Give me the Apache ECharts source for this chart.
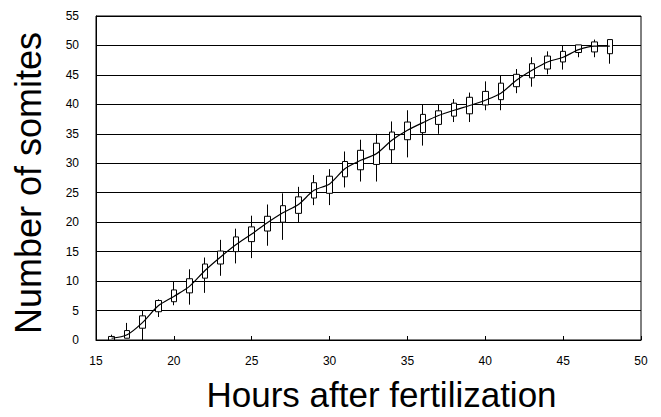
<!DOCTYPE html>
<html>
<head>
<meta charset="utf-8">
<script src="https://cdn.jsdelivr.net/npm/echarts@6/dist/echarts.min.js"></script>
<style>html,body{margin:0;padding:0;background:#fff;}#c{width:661px;height:417px;}</style>
</head>
<body>
<div id="c"></div>
<script>
const hours = [16,17,18,19,20,21,22,23,24,25,26,27,28,29,30,31,32,33,34,35,36,37,38,39,40,41,42,43,44,45,46,47,48];
const whiskerLow = [0,0.3,0,3.9,5.9,6.0,8.0,10.9,13.0,13.9,16.0,17.0,19.9,22.9,22.9,25.9,26.9,26.9,30.0,31.0,33.0,35.0,37.0,37.0,39.0,39.0,41.9,43.0,45.1,45.9,48.0,48.0,46.9];
const boxLow = [0,0.3,2.0,4.8,6.5,8.0,10.5,12.9,15.0,16.7,18.5,20.0,21.5,24.1,24.9,27.7,28.9,29.8,32.3,34.0,35.2,36.6,38.0,38.4,39.9,40.8,43.0,44.5,46.0,47.2,48.8,48.9,48.6];
const boxHigh = [0.6,1.6,4.1,6.7,8.5,10.4,12.9,15.1,17.5,19.2,21.0,22.8,24.3,26.7,27.8,30.3,32.2,33.4,35.3,37.0,38.3,38.9,40.2,41.2,42.2,43.6,45.1,46.9,48.2,49.0,50.1,50.6,51.0];
const whiskerHigh = [0.9,2.9,5.0,6.9,9.9,12.0,14.0,17.0,18.9,21.1,23.0,24.9,26.0,28.0,29.0,32.0,34.0,35.0,37.1,39.0,40.0,40.0,40.9,42.0,43.9,44.9,46.0,48.0,49.0,50.0,50.1,51.0,51.0];
const curve = [0.3,0.9,3.0,5.8,7.4,9.1,11.8,14.1,16.2,18.0,19.9,21.6,23.0,25.4,26.5,29.1,30.5,31.6,33.9,35.6,36.9,38.1,39.0,39.8,40.7,41.9,44.1,45.8,47.2,48.0,49.3,49.9,49.9];
const xTicks = {min: 15, max: 50, interval: 5};
const yTicks = {min: 0, max: 55, interval: 5};

const boxData = hours.map((h, i) => [h, boxLow[i], boxHigh[i], whiskerLow[i], whiskerHigh[i]]);
const lineData = hours.map((h, i) => [h, curve[i]]);

const chart = echarts.init(document.getElementById('c'), null, {renderer: 'svg'});
const font = '"Liberation Sans", Arial, sans-serif';
chart.setOption({
  animation: false,
  backgroundColor: '#fff',
  grid: {left: 96, right: 20, top: 16, bottom: 77, outerBoundsMode: 'none', containLabel: false, show: true, borderColor: '#000', borderWidth: 1, backgroundColor: 'transparent'},
  xAxis: {
    type: 'value', min: xTicks.min, max: xTicks.max, interval: xTicks.interval,
    name: 'Hours after fertilization', nameLocation: 'middle', nameGap: 37,
    nameTextStyle: {fontFamily: font, fontSize: 35, color: '#000', padding: [0, 0, 0, 26]},
    axisLine: {show: true, onZero: false, lineStyle: {color: '#000', width: 1}},
    axisTick: {show: true, inside: true, length: 4, lineStyle: {color: '#000'}},
    axisLabel: {fontFamily: font, fontSize: 12, color: '#000', margin: 15},
    splitLine: {show: false}
  },
  yAxis: {
    type: 'value', min: yTicks.min, max: yTicks.max, interval: yTicks.interval,
    name: 'Number of somites', nameLocation: 'middle', nameGap: 50,
    nameTextStyle: {fontFamily: font, fontSize: 36, color: '#000', padding: [0, 10, 0, 0]},
    axisLine: {show: true, lineStyle: {color: '#000', width: 1}},
    axisTick: {show: false},
    axisLabel: {fontFamily: font, fontSize: 12, color: '#000', margin: 17},
    splitLine: {show: true, lineStyle: {color: '#000', width: 1}}
  },
  series: [
    {
      type: 'candlestick',
      dimensions: ['h', 'open', 'close', 'lowest', 'highest'],
      encode: {x: 'h', y: ['open', 'close', 'lowest', 'highest']},
      data: boxData,
      barWidth: 6,
      itemStyle: {color: '#fff', color0: '#fff', borderColor: '#000', borderColor0: '#000', borderWidth: 1},
      z: 2
    },
    {
      type: 'line',
      data: lineData,
      smooth: 0.3,
      showSymbol: false,
      symbol: 'none',
      lineStyle: {color: '#000', width: 1.2},
      z: 3
    }
  ]
});
</script>
</body>
</html>
